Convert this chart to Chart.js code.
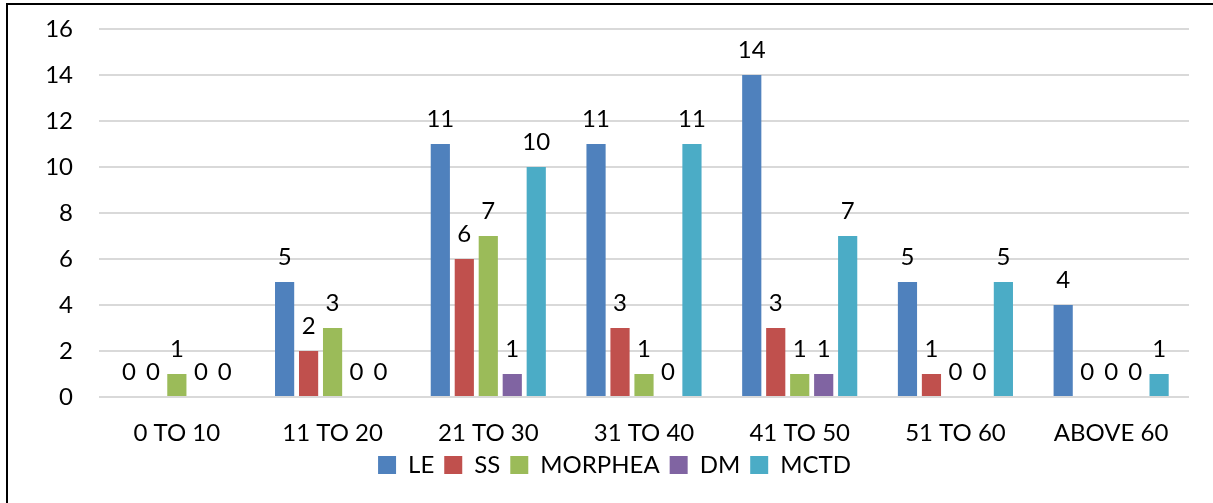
<!DOCTYPE html>
<html>
<head>
<meta charset="utf-8">
<script src="https://cdn.jsdelivr.net/npm/chart.js@4"></script>
<style>
  html, body { margin: 0; padding: 0; background: #fff; overflow: hidden; }
  #frame { position: absolute; left: 6px; top: 3px; width: 1400px; height: 700px;
           border-left: 2px solid #000; border-top: 2px solid #000; }
  #wrap { position: absolute; left: 0; top: 0; width: 1213px; height: 503px; }
</style>
</head>
<body>
<div id="frame"></div>
<div id="wrap"><canvas id="ageChart"></canvas></div>
<script>
var ageGroups = ['0 TO 10', '11 TO 20', '21 TO 30', '31 TO 40', '41 TO 50', '51 TO 60', 'ABOVE 60'];
var leValues      = [0, 5, 11, 11, 14, 5, 4];
var ssValues      = [0, 2, 6, 3, 3, 1, 0];
var morpheaValues = [1, 3, 7, 1, 1, 0, 0];
var dmValues      = [0, 0, 1, 0, 1, 0, 0];
var mctdValues    = [0, 0, 10, 11, 7, 5, 1];
var yTicks = [0, 2, 4, 6, 8, 10, 12, 14, 16];

var font = "Lato";

// etiquetas de valor em cima das barras
var barLabels = {
  id: 'barLabels',
  afterDatasetsDraw: function(chart) {
    var ctx = chart.ctx;
    ctx.save();
    ctx.font = '24px ' + font;
    ctx.fillStyle = '#000';
    ctx.textAlign = 'center';
    ctx.textBaseline = 'alphabetic';
    chart.data.datasets.forEach(function(ds, i) {
      chart.getDatasetMeta(i).data.forEach(function(bar, j) {
        ctx.fillText(String(ds.data[j]), bar.x, bar.y - 17);
      });
    });
    ctx.restore();
  }
};

// empurrar a legenda um pouco para cima e para a direita
var legendShift = {
  id: 'legendShift',
  afterLayout: function(chart) {
    var lg = chart.legend;
    if (!lg) return;
    lg.top -= 4; lg.bottom -= 4;
    lg.left += 20; lg.right += 20;
  }
};

var data = {
  labels: ageGroups,
  datasets: [
    { label: 'LE', data: leValues, backgroundColor: '#4F81BD' },
    { label: 'SS', data: ssValues, backgroundColor: '#C0504D' },
    { label: 'MORPHEA', data: morpheaValues, backgroundColor: '#9BBB59' },
    { label: 'DM', data: dmValues, backgroundColor: '#8064A2' },
    { label: 'MCTD', data: mctdValues, backgroundColor: '#4BACC6' }
  ]
};

var options = {
  responsive: false,
  animation: false,
  categoryPercentage: 0.77,
  barPercentage: 0.8,
  layout: { padding: { top: 29, right: 24, bottom: 12, left: 0 } },
  plugins: {
    legend: {
      position: 'bottom',
      labels: {
        boxWidth: 18, boxHeight: 18, padding: 10,
        color: '#000', font: { family: font, size: 24 }
      }
    },
    tooltip: { enabled: false }
  },
  scales: {
    x: {
      afterFit: function(scale) { scale.height = 50; },
      grid: { display: false, drawTicks: false },
      border: { display: false },
      ticks: { color: '#000', padding: 22, font: { family: font, size: 24 } }
    },
    y: {
      min: 0, max: 16,
      afterFit: function(scale) { scale.width = 99; scale.paddingTop = 0; scale.paddingBottom = 0; },
      afterBuildTicks: function(scale) { scale.ticks = yTicks.map(function(v) { return { value: v }; }); },
      grid: { color: '#d9d9d9', lineWidth: 2, drawTicks: false },
      border: { display: false },
      ticks: { color: '#000', padding: 26, font: { family: font, size: 24 } }
    }
  }
};

var canvas = document.getElementById('ageChart');
canvas.width = 1213;
canvas.height = 503;
var ageChart = new Chart(canvas.getContext('2d'), {
  type: 'bar',
  data: data,
  options: options,
  plugins: [barLabels, legendShift]
});
</script>
</body>
</html>
